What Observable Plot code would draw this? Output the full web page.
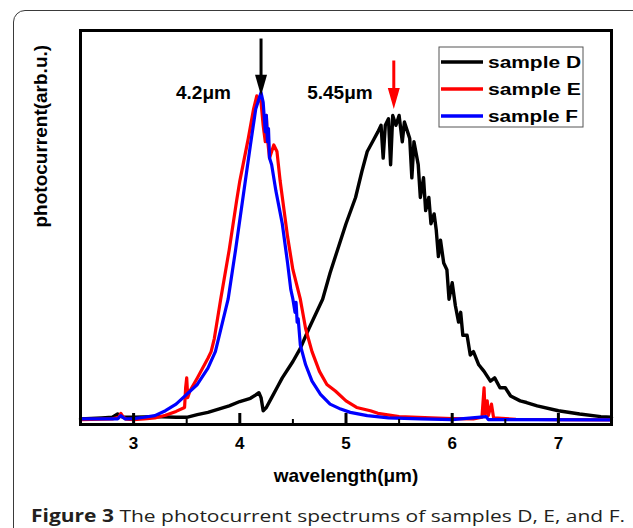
<!DOCTYPE html>
<html><head><meta charset="utf-8">
<script src="https://cdn.jsdelivr.net/npm/d3@7"></script>
<script src="https://cdn.jsdelivr.net/npm/@observablehq/plot@0.6"></script>
<style>
body{margin:0;background:#fff;font-family:"Liberation Sans",Arial,sans-serif;}
#panel{position:absolute;left:13px;top:10px;width:630px;height:540px;border:1.5px solid #3a3a3a;border-radius:12px;background:transparent;z-index:2;pointer-events:none;}
#chart{position:absolute;left:0;top:0;z-index:1;}
#caption{position:absolute;left:31px;top:507px;font-family:"Open Sans",sans-serif;font-size:17px;line-height:17px;color:#231f20;white-space:nowrap;transform-origin:0 0;}
</style></head><body>
<div id="chart"></div>
<div id="panel"></div>
<div id="caption"><b>Figure 3</b> The photocurrent spectrums of samples D, E, and F.</div>
<script>
// ---- data (wavelength in µm, photocurrent normalised, arb. u.) ----
const sampleD = [
 [2.5,0.005],[2.7,0.008],[2.8,0.01],[2.85,0.02],[2.9,0.01],[3.0,0.01],[3.2,0.012],[3.4,0.01],[3.5,0.01],
 [3.6,0.018],[3.7,0.025],[3.8,0.035],[3.9,0.045],[4.0,0.058],[4.1,0.068],[4.15,0.078],[4.18,0.085],
 [4.2,0.07],[4.22,0.03],[4.25,0.04],[4.3,0.07],[4.35,0.1],[4.4,0.13],[4.5,0.18],[4.57,0.22],[4.65,0.28],
 [4.78,0.37],[4.85,0.45],[4.92,0.52],[5.0,0.6],[5.09,0.68],[5.15,0.76],[5.2,0.82],[5.25,0.85],[5.3,0.88],
 [5.33,0.9],[5.35,0.8],[5.37,0.9],[5.4,0.92],[5.42,0.78],[5.44,0.93],[5.47,0.9],[5.5,0.93],[5.53,0.85],[5.55,0.91],
 [5.58,0.88],[5.6,0.86],[5.62,0.74],[5.64,0.85],[5.68,0.78],[5.7,0.68],[5.73,0.74],[5.75,0.64],[5.78,0.68],[5.8,0.6],
 [5.83,0.63],[5.85,0.58],[5.87,0.5],[5.89,0.55],[5.92,0.48],[5.95,0.46],[5.97,0.37],[6.0,0.42],[6.03,0.35],[6.06,0.3],
 [6.08,0.33],[6.1,0.26],[6.14,0.26],[6.17,0.2],[6.2,0.21],[6.25,0.17],[6.3,0.15],[6.36,0.12],[6.4,0.13],
 [6.45,0.1],[6.5,0.1],[6.55,0.075],[6.64,0.06],[6.7,0.055],[6.8,0.045],[7.0,0.03],[7.2,0.02],[7.4,0.012],[7.5,0.01]
];
const sampleE = [
 [2.5,0.003],[2.8,0.005],[2.86,0.01],[2.88,0.022],[2.9,0.012],[2.93,0.004],[3.0,0.003],[3.1,0.005],
 [3.2,0.008],[3.3,0.016],[3.4,0.028],[3.48,0.04],[3.49,0.1],[3.5,0.13],[3.51,0.07],[3.53,0.09],
 [3.6,0.13],[3.7,0.19],[3.73,0.21],[3.76,0.25],[3.82,0.37],[3.9,0.52],[3.97,0.67],[4.0,0.73],
 [4.08,0.86],[4.13,0.95],[4.16,0.99],[4.2,0.97],[4.22,0.9],[4.24,0.85],[4.25,0.93],[4.26,0.86],
 [4.28,0.8],[4.32,0.84],[4.35,0.82],[4.38,0.73],[4.45,0.56],[4.5,0.46],[4.57,0.37],[4.62,0.28],
 [4.68,0.21],[4.75,0.15],[4.82,0.11],[4.9,0.09],[5.0,0.06],[5.1,0.04],[5.23,0.03],[5.3,0.022],
 [5.5,0.012],[5.8,0.008],[6.0,0.006],[6.2,0.005],[6.28,0.01],[6.3,0.1],[6.31,0.02],[6.33,0.06],
 [6.34,0.015],[6.37,0.05],[6.39,0.008],[6.6,0.004],[7.0,0.003],[7.5,0.002]
];
const sampleF = [
 [2.5,0.005],[2.85,0.005],[2.88,0.015],[2.92,0.005],[3.0,0.006],[3.1,0.01],[3.2,0.015],[3.3,0.03],
 [3.4,0.05],[3.5,0.08],[3.6,0.11],[3.7,0.16],[3.77,0.21],[3.83,0.29],[3.89,0.37],[3.96,0.52],
 [4.03,0.68],[4.1,0.84],[4.15,0.95],[4.2,1.0],[4.22,0.97],[4.24,0.88],[4.25,0.93],[4.26,0.85],
 [4.27,0.89],[4.28,0.8],[4.3,0.78],[4.34,0.7],[4.4,0.6],[4.45,0.48],[4.48,0.4],[4.5,0.37],[4.52,0.33],
 [4.53,0.36],[4.54,0.3],[4.55,0.31],[4.57,0.23],[4.62,0.17],[4.68,0.12],[4.76,0.08],[4.85,0.05],
 [4.95,0.035],[5.04,0.025],[5.2,0.015],[5.4,0.008],[5.7,0.005],[6.0,0.003],[6.32,0.012],[6.34,0.003],[7.5,0.002]
];
const seriesNames = ["sample D","sample E","sample F"];
const seriesColors = ["#000000","#ff0000","#0000ff"];
const majorTicks = [3,4,5,6,7];
const minorTicks = [3.5,4.5,5.5,6.5];
const xDomain = [2.5,7.5];
const yDomain = [-0.012,1.189];
const xLabel = "wavelength(μm)";
const yLabel = "photocurrent(arb.u.)";
const peaks = [
 {x:4.2, top:1.163, tip:0.99, color:"#000000", label:"4.2μm", lx:3.658, ly:1.0},
 {x:5.45, top:1.096, tip:0.95, color:"#ff0000", label:"5.45μm", lx:4.943, ly:1.0}
];

const toRows = (arr) => arr.map(([x,y]) => ({x,y}));
const W = 633, H = 500, mL = 80, mR = 22, mT = 30, mB = 76;
const innerH = H - mT - mB;

const arrowHead = {draw(ctx){ ctx.moveTo(0,0); ctx.lineTo(-6,-21); ctx.lineTo(6,-21); ctx.closePath(); }};

const chart = Plot.plot({
  width: W, height: H, marginLeft: mL, marginRight: mR, marginTop: mT, marginBottom: mB,
  x: {domain: xDomain}, y: {domain: yDomain, axis: null},
  color: {type: "identity"},
  style: {fontFamily: "'Liberation Sans', Arial, sans-serif", background: "transparent", color: "black"},
  marks: [
    Plot.lineY(toRows(sampleD), {x:"x", y:"y", stroke: seriesColors[0], strokeWidth: 3.4}),
    Plot.lineY(toRows(sampleE), {x:"x", y:"y", stroke: seriesColors[1], strokeWidth: 3.2}),
    Plot.lineY(toRows(sampleF), {x:"x", y:"y", stroke: seriesColors[2], strokeWidth: 3.2}),
    Plot.frame({stroke: "black", strokeWidth: 3}),
    Plot.tickX(majorTicks, {x: d => d, insetTop: innerH - 11, strokeWidth: 3, stroke: "black"}),
    Plot.tickX(minorTicks, {x: d => d, insetTop: innerH - 5, strokeWidth: 2, stroke: "black"}),
    Plot.axisX({ticks: majorTicks, tickSize: 0, tickPadding: 12, fontSize: 17, fontWeight: "bold", label: null, tickFormat: d => String(d)}),
    Plot.text([xLabel], {frameAnchor: "bottom", dy: 57, text: d => d, fontSize: 19, fontWeight: "bold", ariaLabel: "xlabel"}),
    Plot.text([yLabel], {frameAnchor: "left", dx: -40, rotate: -90, text: d => d, fontSize: 19, fontWeight: "bold", ariaLabel: "ylabel"}),
    Plot.ruleX(peaks, {x: "x", y1: "top", y2: "tip", stroke: "color", strokeWidth: 3, insetBottom: 14}),
    Plot.dot(peaks, {x: "x", y: "tip", symbol: arrowHead, fill: "color", stroke: "none"}),
    Plot.text(peaks, {x: "lx", y: "ly", text: "label", fontSize: 19, fontWeight: "bold", fill: "black", ariaLabel: "peaklabels"})
  ]
});
document.getElementById("chart").appendChild(chart);

const svg = d3.select(chart);
const fit = (sel, len) => sel.attr("textLength", len).attr("lengthAdjust", "spacingAndGlyphs");
fit(svg.select("g[aria-label=xlabel] text"), 160);
fit(svg.select("g[aria-label=ylabel] text"), 210);
svg.selectAll("g[aria-label=peaklabels] text").each(function(d, i){ fit(d3.select(this), i === 0 ? 58 : 69); });

// legend
const lg = svg.append("g").attr("aria-label", "legend").attr("text-anchor", "start");
lg.append("rect").attr("x", 439).attr("y", 47).attr("width", 144).attr("height", 80)
  .attr("fill", "white").attr("stroke", "#555").attr("stroke-width", 1);
seriesNames.forEach((name, i) => {
  const cy = 62 + i * 27;
  lg.append("line").attr("x1", 441).attr("x2", 483).attr("y1", cy).attr("y2", cy)
    .attr("stroke", seriesColors[i]).attr("stroke-width", 3.5);
  const t = lg.append("text").attr("x", 488).attr("y", cy + 6).text(name)
    .attr("text-anchor", "start")
    .attr("font-size", 16).attr("font-weight", "bold").attr("fill", "black");
  fit(t, i === 2 ? 90 : 93);
});

// caption width fit
const cap = document.getElementById("caption");
const w = cap.getBoundingClientRect().width;
cap.style.transform = `scaleX(${594 / w})`;
</script>
</body></html>
